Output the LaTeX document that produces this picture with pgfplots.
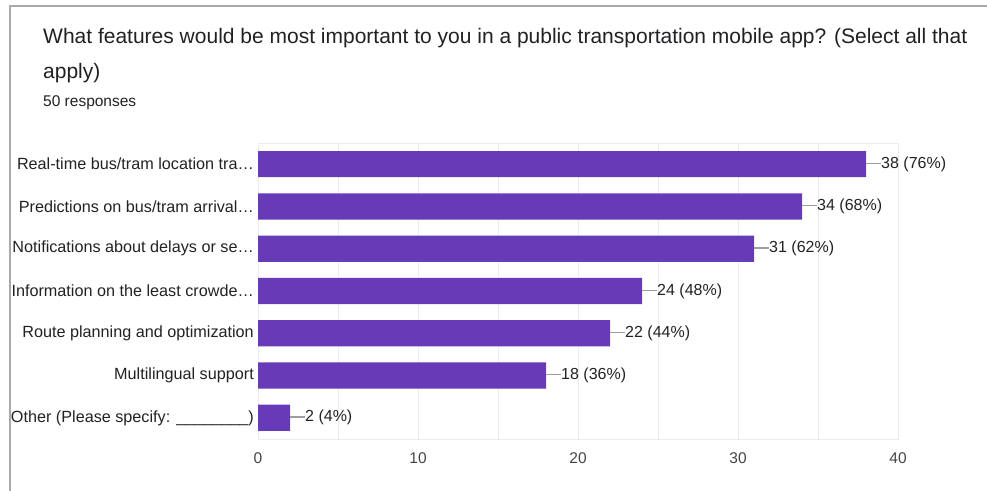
\documentclass[border=0pt]{standalone}
\usepackage{fontspec}
\setmainfont{Liberation Sans}
\usepackage{pgfplots}
\usepackage{pgfplotstable}
\pgfplotsset{compat=1.18}
\definecolor{barc}{HTML}{673AB7}
\definecolor{gridc}{HTML}{EBEBEB}
\definecolor{axisc}{HTML}{333333}
\definecolor{framec}{HTML}{AAAAAA}
\definecolor{titlec}{HTML}{202124}
\definecolor{labc}{HTML}{222222}
\definecolor{tickc}{HTML}{444444}
\definecolor{leadc}{HTML}{9E9E9E}
\pgfplotstableread[col sep=comma]{
idx,val,lab
0,38,38 (76\%)
1,34,34 (68\%)
2,31,31 (62\%)
3,24,24 (48\%)
4,22,22 (44\%)
5,18,18 (36\%)
6,2,2 (4\%)
}\datatable
\begin{document}
\begin{tikzpicture}[x=1bp,y=1bp]
\useasboundingbox (0,0) rectangle (987,491);
\draw[framec, line width=1.5bp] (10,0) -- (10,485) -- (987,485);
\node[anchor=base west, inner sep=0pt, text=titlec, font=\fontsize{21bp}{25bp}\selectfont] at (43,447) {What features would be most important to you in a public transportation mobile app? (Select all that};
\node[anchor=base west, inner sep=0pt, text=titlec, font=\fontsize{21bp}{25bp}\selectfont] at (43,412) {apply)};
\node[anchor=base west, inner sep=0pt, text=titlec, font=\fontsize{15.5bp}{18bp}\selectfont] at (43,384) {50 responses};
\begin{axis}[
  at={(258bp,52bp)}, anchor=south west,
  scale only axis, width=640bp, height=296bp,
  xbar, bar width=0.62,
  xmin=0, xmax=40, ymin=-0.5, ymax=6.5, y dir=reverse,
  ytick={0,...,6},
  yticklabels={{Real-time bus/tram location tra…},{Predictions on bus/tram arrival…},{Notifications about delays or se…},{Information on the least crowde…},{Route planning and optimization},{Multilingual support},{Other (Please specify: \_\_\_\_\_\_\_\_)}},
  xtick={0,10,20,30,40},
  minor x tick num=1,
  xmajorgrids, xminorgrids,
  major grid style={gridc, line width=0.9bp},
  minor grid style={gridc, line width=0.9bp},
  axis line style={gridc, line width=0.9bp},
  major tick length=0pt, minor tick length=0pt,
  tick style={draw=none},
  extra x ticks={0}, extra x tick labels={},
  extra x tick style={grid style={axisc, line width=1.2bp}},
  /pgf/number format/assume math mode=true,
  xticklabel style={font=\fontsize{15.5bp}{18bp}\selectfont, text=tickc, inner sep=0pt, yshift=-13bp},
  yticklabel style={font=\fontsize{16.2bp}{19bp}\selectfont, text=labc, inner sep=0pt, xshift=-4bp},
  point meta=explicit symbolic,
  nodes near coords,
  every node near coord/.append style={anchor=west, inner sep=0pt, text=labc, font=\fontsize{16bp}{19bp}\selectfont},
  nodes near coords={{\color{leadc}\rule[0.27em]{15bp}{1.3bp}}\pgfplotspointmeta},
  clip=false,
]
\addplot[fill=barc, draw=none] table[x=val, y=idx, meta=lab] {\datatable};
\end{axis}
\end{tikzpicture}
\end{document}
